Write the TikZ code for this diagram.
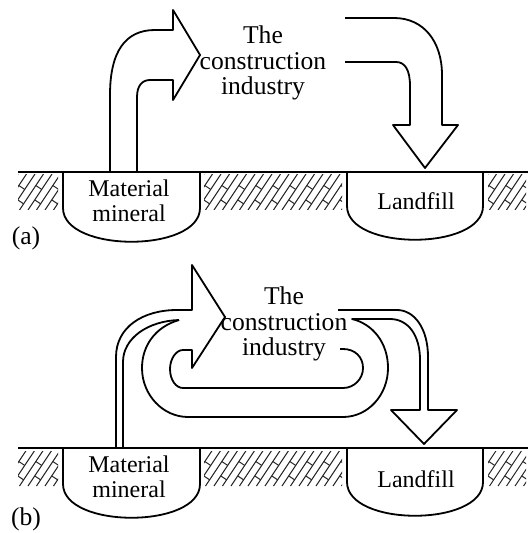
\documentclass[tikz,border=0pt]{standalone}
\usepackage{fontspec}
\setmainfont{Liberation Serif}
\newcommand\hatchband[3]{%
 \begin{scope}
  \clip (#1,#3) rectangle (#2,#3+35);
  \foreach \i in {0,...,22}{
    \pgfmathsetmacro\hxa{#1-24+8.5*\i}
    \pgfmathsetmacro\hfr{ifthenelse(mod(\i,2)==0,0.28,0.68)}
    \draw[hatchln] (\hxa,#3+35) -- ++(24,-36);
    \draw[hatchln] (\hxa+24*\hfr,#3+35-36*\hfr) -- ++(5.9,3.9);
  }
 \end{scope}}
\begin{document}
\begin{tikzpicture}[x=0.5pt,y=-0.5pt, line join=round,
  outl/.style={line width=0.9pt},
  pit/.style={line width=0.9pt},
  hatchln/.style={line width=0.5pt, black!85},
  lbl/.style={font=\fontsize{12}{12.5}\selectfont, align=center, inner sep=0pt},
  big/.style={font=\fontsize{12.8}{12.8}\selectfont, align=center, inner sep=0pt}]
\useasboundingbox (0,0) rectangle (531,533);

% ---------- panel (a) ground ----------
\draw[pit] (18,172) -- (528,172);
\draw[pit] (63,172) -- (63,208) .. controls (63,253) and (200,253) .. (200,208) -- (200,172);
\draw[pit] (347,172) -- (347,206) .. controls (347,251) and (483,251) .. (483,206) -- (483,172);
\hatchband{18}{58}{175}
\hatchband{204}{342}{175}
\hatchband{488}{526}{175}
\node[lbl] (mata) at (129,201) {Material\\mineral};
\node[lbl] (landa) at (416,201) {Landfill};
\node[big] (laba) at (26,238) {(a)};
\node[big] (inda) at (263,63) {The\\construction\\industry};

% arrows (a)
\draw[outl] (110,172) -- (110,95) .. controls (110,52) and (125,30) .. (155,30) -- (173,30) -- (173,10) -- (200,55) -- (173,100) -- (173,80) -- (150,80) .. controls (142,80) and (137,86) .. (137,97) -- (137,172);
\draw[outl] (345,18) -- (394,18) .. controls (424,18) and (442,42) .. (442,75) -- (442,125) -- (458,125) -- (425,168) -- (393,125) -- (410,125) -- (410,86) .. controls (410,70) and (405,62) .. (396,62) -- (345,62);

% ---------- panel (b) ground ----------
\draw[pit] (18,448) -- (528,448);
\draw[pit] (63,448) -- (63,484) .. controls (63,529) and (200,529) .. (200,484) -- (200,448);
\draw[pit] (347,448) -- (347,482) .. controls (347,527) and (483,527) .. (483,482) -- (483,448);
\hatchband{18}{58}{451}
\hatchband{204}{342}{451}
\hatchband{488}{526}{451}
\node[lbl] (matb) at (129,477) {Material\\mineral};
\node[lbl] (landb) at (416,479) {Landfill};
\node[big] (labb) at (26,519) {(b)};
\node[big] (indb) at (284,324) {The\\construction\\industry};

% arrows (b)
\draw[outl] (116,448) -- (116,357) .. controls (116,327) and (143,310) .. (177,310) -- (192,310) -- (192,265) -- (225,317) -- (192,368) -- (192,350) -- (183,350) .. controls (176,350) and (170,359) .. (170,369) .. controls (170,380) and (176,388) .. (183,388) -- (343,388) .. controls (354,388) and (363,379) .. (363,368) .. controls (363,357) and (355,349) .. (343,349) -- (340,349);
\draw[outl] (123,448) -- (123,362) .. controls (123,338) and (148,321) .. (179,320);
\draw[outl] (179,320) .. controls (155,327) and (142,346) .. (142,368) .. controls (142,395) and (163,417) .. (188,417) -- (343,417) .. controls (368,417) and (388,395) .. (388,368) .. controls (388,343) and (373,324) .. (352,319) -- (390,319) .. controls (408,319) and (420,335) .. (420,360) -- (420,410) -- (391,410) -- (424,444) -- (457,410) -- (428,410) -- (428,357) .. controls (428,328) and (414,310) .. (397,310) -- (338,310);
\end{tikzpicture}
\end{document}
